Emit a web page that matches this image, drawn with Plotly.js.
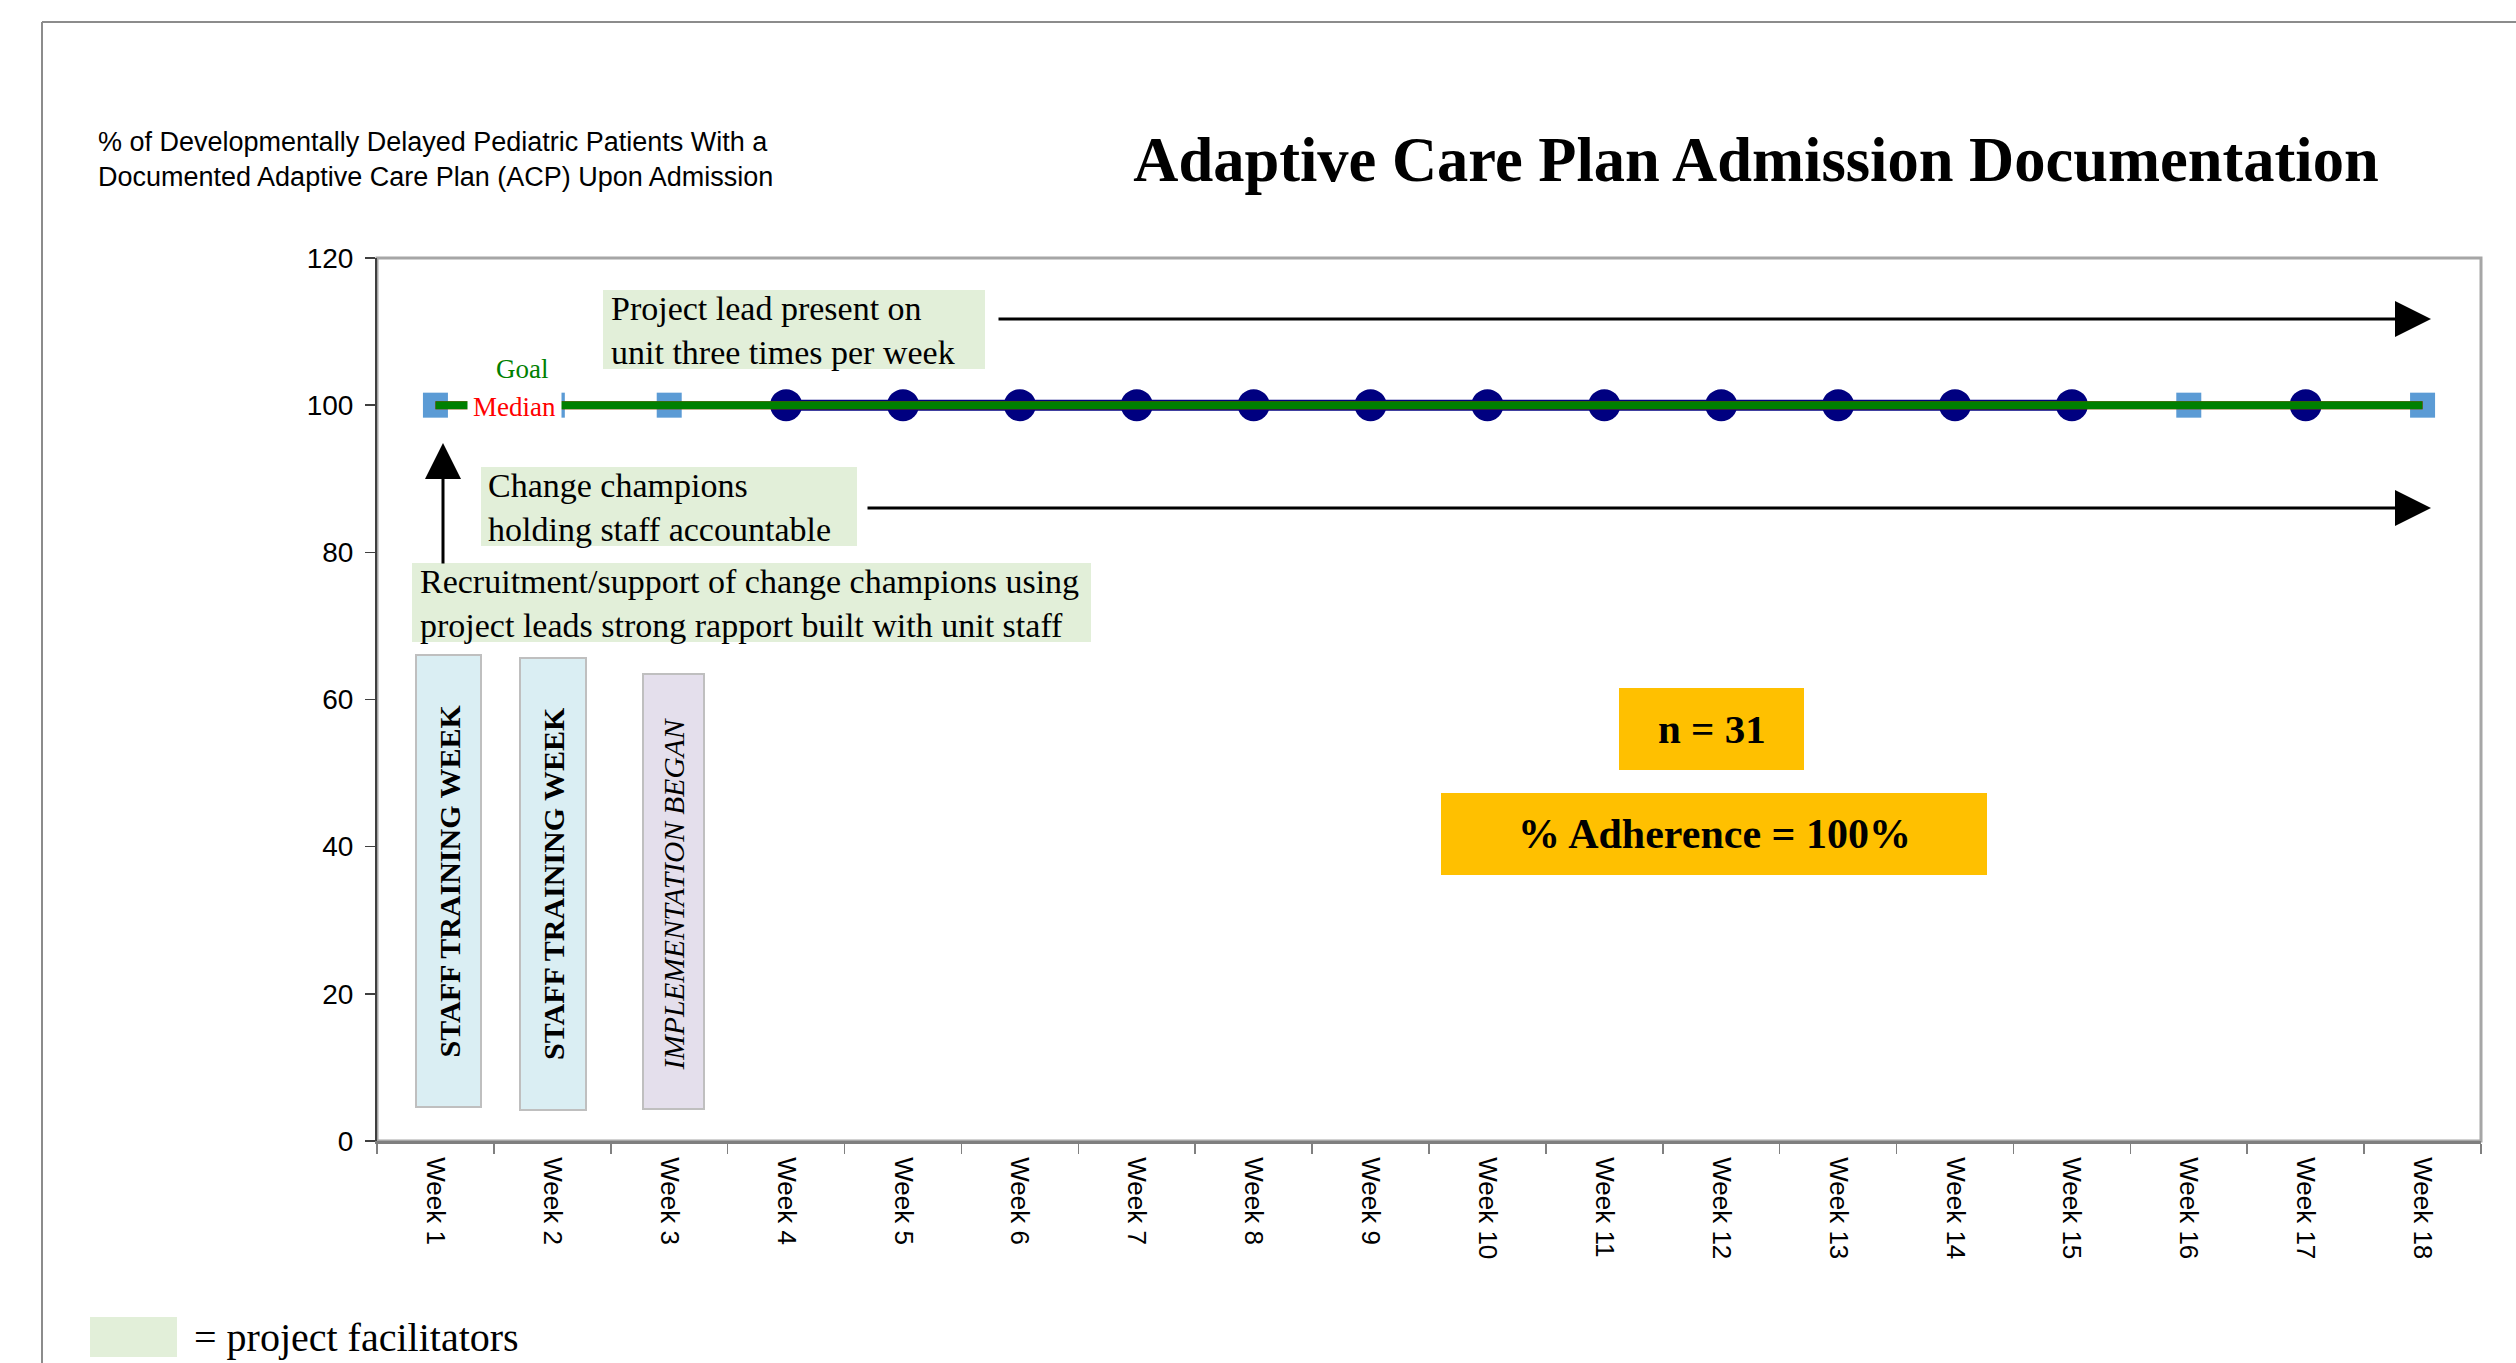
<!DOCTYPE html>
<html>
<head>
<meta charset="utf-8">
<script src="https://cdn.plot.ly/plotly-3.0.1.min.js"></script>
<style>html,body{margin:0;padding:0;background:#fff;}#chart{width:2516px;height:1363px;}</style>
</head>
<body>
<div id="chart"></div>
<script>
// ---- data ----
const weeks = ['Week 1','Week 2','Week 3','Week 4','Week 5','Week 6','Week 7','Week 8','Week 9',
  'Week 10','Week 11','Week 12','Week 13','Week 14','Week 15','Week 16','Week 17','Week 18'];
const circleValues = [null,null,null,100,100,100,100,100,100,100,100,100,100,100,100,null,100,null];
const squareValues = [100,100,100,null,null,null,null,null,null,null,null,null,null,null,null,100,null,100];
const medianValues = [100,100,100,100,100,100,100,100,100,100,100,100,100,100,100,100,100,100];
const goalValues   = [100,100,100,100,100,100,100,100,100,100,100,100,100,100,100,100,100,100];
const yTicks = [0,20,40,60,80,100,120];

const chartTitle = 'Adaptive Care Plan Admission Documentation';
const yTitleLines = ['% of Developmentally Delayed Pediatric Patients With a',
                     'Documented Adaptive Care Plan (ACP) Upon Admission'];
const noteProjectLead = ['Project lead present on','unit three times per week'];
const noteChampions = ['Change champions','holding staff accountable'];
const noteRecruitment = ['Recruitment/support of change champions using','project leads strong rapport built with unit staff'];
const phaseLabels = ['STAFF TRAINING WEEK','STAFF TRAINING WEEK','IMPLEMENTATION BEGAN'];
const sampleText = 'n = 31';
const adherenceText = '% Adherence = 100%';
const legendText = '= project facilitators';

// ---- layout helpers (pixel -> paper) ----
const W = 2516, H = 1363;
const L = 377, R = 2481, T = 258, B = 1141;
const px = x => (x - L) / (R - L);
const py = y => (B - y) / (B - T);
const SERIF = 'Liberation Serif, Times New Roman, serif';
const SANS = 'Liberation Sans, Arial, sans-serif';

const traces = [
  { x: weeks, y: circleValues, type: 'scatter', mode: 'lines+markers', connectgaps: false,
    line: { color: '#000080', width: 11 },
    marker: { symbol: 'circle', size: 32, color: '#000080' }, name: 'Data', hoverinfo: 'skip' },
  { x: weeks, y: squareValues, type: 'scatter', mode: 'markers',
    marker: { symbol: 'square', size: 25, color: '#5B9BD5' }, name: 'Data (other)', hoverinfo: 'skip' },
  { x: weeks, y: medianValues, type: 'scatter', mode: 'lines',
    line: { color: '#FF0000', width: 8 }, name: 'Median', hoverinfo: 'skip' },
  { x: weeks, y: goalValues, type: 'scatter', mode: 'lines',
    line: { color: '#008000', width: 8 }, name: 'Goal', hoverinfo: 'skip' }
];

const shapes = [
  // page frame
  { type: 'line', xref: 'paper', yref: 'paper', x0: px(42), x1: px(W), y0: py(22), y1: py(22),
    line: { color: '#8c8c8c', width: 2 }, layer: 'below' },
  { type: 'line', xref: 'paper', yref: 'paper', x0: px(42), x1: px(42), y0: py(22), y1: py(H),
    line: { color: '#8c8c8c', width: 2 }, layer: 'below' },
  // plot area frame
  { type: 'rect', xref: 'paper', yref: 'paper', x0: 0, x1: 1, y0: 0, y1: 1,
    line: { color: '#a6a6a6', width: 3 }, layer: 'below' },
  // phase boxes
  { type: 'rect', xref: 'paper', yref: 'paper', x0: px(416), x1: px(481), y0: py(1107), y1: py(655),
    fillcolor: '#DAEEF3', line: { color: '#BFBFBF', width: 2 } },
  { type: 'rect', xref: 'paper', yref: 'paper', x0: px(520), x1: px(586), y0: py(1110), y1: py(658),
    fillcolor: '#DAEEF3', line: { color: '#BFBFBF', width: 2 } },
  { type: 'rect', xref: 'paper', yref: 'paper', x0: px(643), x1: px(704), y0: py(1109), y1: py(674),
    fillcolor: '#E4DFEC', line: { color: '#BFBFBF', width: 2 } },
  // facilitator boxes
  { type: 'rect', xref: 'paper', yref: 'paper', x0: px(603), x1: px(985), y0: py(369), y1: py(290),
    fillcolor: '#E2EFD9', line: { width: 0 } },
  { type: 'rect', xref: 'paper', yref: 'paper', x0: px(481), x1: px(857), y0: py(546), y1: py(467),
    fillcolor: '#E2EFD9', line: { width: 0 } },
  { type: 'rect', xref: 'paper', yref: 'paper', x0: px(412), x1: px(1091), y0: py(642), y1: py(563),
    fillcolor: '#E2EFD9', line: { width: 0 } },
  // orange stat boxes
  { type: 'rect', xref: 'paper', yref: 'paper', x0: px(1619), x1: px(1804), y0: py(770), y1: py(688),
    fillcolor: '#FFC000', line: { width: 0 } },
  { type: 'rect', xref: 'paper', yref: 'paper', x0: px(1441), x1: px(1987), y0: py(875), y1: py(793),
    fillcolor: '#FFC000', line: { width: 0 } },
  // legend swatch
  { type: 'rect', xref: 'paper', yref: 'paper', x0: px(90), x1: px(177), y0: py(1357), y1: py(1317),
    fillcolor: '#E2EFD9', line: { width: 0 } }
];

const ann = (o) => Object.assign({ xref: 'paper', yref: 'paper', showarrow: false,
                                   xanchor: 'center', yanchor: 'middle' }, o);
const annotations = [
  ann({ x: px(96), y: py(159), xanchor: 'left', align: 'left',
        text: yTitleLines.join('<br>'), font: { family: SANS, size: 27, color: '#000' } }),
  // arrows
  ann({ x: px(2431), y: py(319), showarrow: true, ax: 997 - 2431, ay: 0, text: '',
        arrowhead: 2, arrowsize: 2.4, arrowwidth: 3, arrowcolor: '#000', standoff: 0 }),
  ann({ x: px(2431), y: py(508), showarrow: true, ax: 866 - 2431, ay: 0, text: '',
        arrowhead: 2, arrowsize: 2.4, arrowwidth: 3, arrowcolor: '#000', standoff: 0 }),
  ann({ x: px(443), y: py(443), showarrow: true, ax: 0, ay: 565 - 443, text: '',
        arrowhead: 2, arrowsize: 2.4, arrowwidth: 3, arrowcolor: '#000', standoff: 0 }),
  // facilitator notes
  ann({ x: px(609), y: py(330), xanchor: 'left', align: 'left',
        text: noteProjectLead.join('<br>'), font: { family: SERIF, size: 34, color: '#000' } }),
  ann({ x: px(486), y: py(507), xanchor: 'left', align: 'left',
        text: noteChampions.join('<br>'), font: { family: SERIF, size: 34, color: '#000' } }),
  ann({ x: px(418), y: py(603), xanchor: 'left', align: 'left',
        text: noteRecruitment.join('<br>'), font: { family: SERIF, size: 34, color: '#000' } }),
  // goal / median labels
  ann({ x: px(522), y: py(369), text: 'Goal',
        font: { family: SERIF, size: 27, color: '#008000' } }),
  ann({ x: px(514), y: py(407), text: 'Median',
        bgcolor: '#FFFFFF', borderpad: 5, font: { family: SERIF, size: 27, color: '#FF0000' } }),
  // phase labels
  ann({ x: px(448.5), y: py(881), textangle: -90, text: '<b>' + phaseLabels[0] + '</b>',
        font: { family: SERIF, size: 30, color: '#000' } }),
  ann({ x: px(553), y: py(884), textangle: -90, text: '<b>' + phaseLabels[1] + '</b>',
        font: { family: SERIF, size: 30, color: '#000' } }),
  ann({ x: px(673.5), y: py(894), textangle: -90, text: '<i>' + phaseLabels[2] + '</i>',
        font: { family: SERIF, size: 29.5, color: '#000' } }),
  // stats
  ann({ x: px(1711.5), y: py(729), text: '<b>' + sampleText + '</b>',
        font: { family: SERIF, size: 41, color: '#000' } }),
  ann({ x: px(1714), y: py(834), text: '<b>' + adherenceText + '</b>',
        font: { family: SERIF, size: 42, color: '#000' } }),
  // legend text
  ann({ x: px(192), y: py(1337), xanchor: 'left', text: legendText,
        font: { family: SERIF, size: 40, color: '#000' } })
];

const layout = {
  width: W, height: H,
  margin: { l: L, r: W - R, t: T, b: H - B, pad: 0 },
  paper_bgcolor: '#ffffff', plot_bgcolor: '#ffffff',
  showlegend: false,
  hovermode: false,
  title: { text: '<b>' + chartTitle + '</b>', x: 1756 / W, xanchor: 'center',
           y: 1 - 159 / H, yanchor: 'middle', xref: 'container', yref: 'container',
           font: { family: SERIF, size: 62.5, color: '#000' } },
  xaxis: {
    type: 'category', range: [-0.5, 17.5], fixedrange: true,
    showgrid: false, zeroline: false,
    showline: true, linecolor: '#7f7f7f', linewidth: 3,
    ticks: 'outside', tickson: 'boundaries', ticklen: 10, tickwidth: 1.5, tickcolor: '#808080',
    ticklabelstandoff: 8,
    tickangle: 90, tickfont: { family: SANS, size: 26, color: '#000' }
  },
  yaxis: {
    range: [0, 120], tickvals: yTicks, ticktext: yTicks.map(String), fixedrange: true,
    showgrid: false, zeroline: false,
    showline: true, linecolor: '#404040', linewidth: 2,
    ticks: 'outside', ticklen: 10, tickwidth: 1.5, tickcolor: '#404040',
    ticklabelstandoff: 6,
    tickfont: { family: SANS, size: 28, color: '#000' }
  },
  shapes: shapes,
  annotations: annotations
};

Plotly.newPlot('chart', traces, layout, { displayModeBar: false, staticPlot: true });
</script>
</body>
</html>
